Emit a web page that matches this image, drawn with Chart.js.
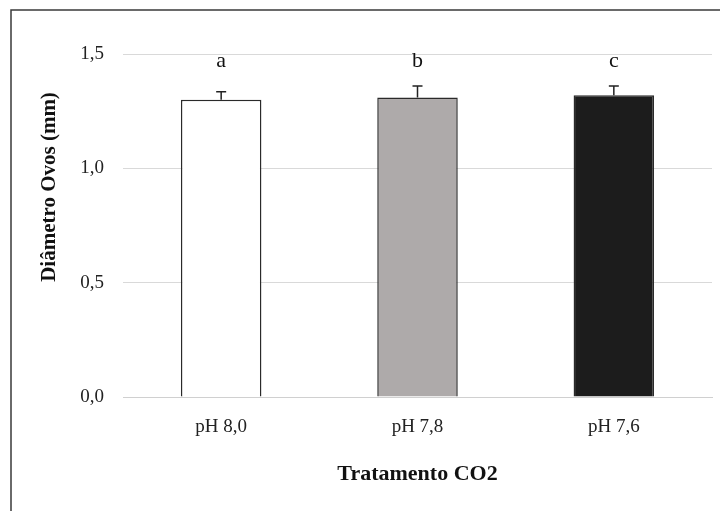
<!DOCTYPE html>
<html>
<head>
<meta charset="utf-8">
<script src="https://cdn.jsdelivr.net/npm/chart.js@4"></script>
<style>
  html, body { margin: 0; padding: 0; background: #ffffff; }
  #wrap { width: 720px; height: 511px; position: relative; }
</style>
</head>
<body>
<div id="wrap"><canvas id="c"></canvas></div>
<script>
// Egg diameter by CO2 treatment
const categories = ['pH 8,0', 'pH 7,8', 'pH 7,6'];
const diameters = [1.30, 1.31, 1.32];
const errors = [0.035, 0.05, 0.04];
const groupLetters = ['a', 'b', 'c'];
const yTicks = [0, 0.5, 1.0, 1.5];
const barFills = ['#ffffff', '#aeaaaa', '#1c1c1c'];

const SERIF = '"Liberation Serif", "Times New Roman", serif';

// Outer frame (left and top edges only)
const framePlugin = {
  id: 'frame',
  beforeDraw(chart) {
    const ctx = chart.ctx;
    ctx.save();
    ctx.strokeStyle = '#3a3a3a';
    ctx.lineWidth = 1.5;
    ctx.beginPath();
    ctx.moveTo(11, 511);
    ctx.lineTo(11, 10);
    ctx.lineTo(720, 10);
    ctx.stroke();
    ctx.restore();
  }
};

// Upper error bars, significance letters and the value-axis caption
const annotatePlugin = {
  id: 'annotate',
  afterDatasetsDraw(chart) {
    const ctx = chart.ctx;
    const y = chart.scales.y;
    const meta = chart.getDatasetMeta(0);
    ctx.save();
    meta.data.forEach((bar, i) => {
      const top = y.getPixelForValue(diameters[i] + errors[i]);
      ctx.strokeStyle = '#222222';
      ctx.lineWidth = 1.5;
      ctx.beginPath();
      ctx.moveTo(bar.x, bar.y);
      ctx.lineTo(bar.x, top);
      ctx.moveTo(bar.x - 5, top);
      ctx.lineTo(bar.x + 5, top);
      ctx.stroke();

      ctx.fillStyle = '#111111';
      ctx.font = '22px ' + SERIF;
      ctx.textAlign = 'center';
      ctx.textBaseline = 'middle';
      ctx.fillText(groupLetters[i], bar.x, chart.chartArea.top + 7);
    });
    ctx.restore();
  },
  afterDraw(chart) {
    const ctx = chart.ctx;
    ctx.save();
    ctx.translate(50, 187);
    ctx.rotate(-Math.PI / 2);
    ctx.fillStyle = '#111111';
    ctx.font = 'bold 21px ' + SERIF;
    ctx.textAlign = 'center';
    ctx.textBaseline = 'middle';
    ctx.fillText('Diâmetro Ovos (mm)', 0, 0);
    ctx.restore();
  }
};

new Chart(document.getElementById('c'), {
  type: 'bar',
  data: {
    labels: categories,
    datasets: [{
      data: diameters,
      backgroundColor: barFills,
      borderColor: '#2a2a2a',
      borderWidth: 1.5,
      borderSkipped: 'bottom',
      barPercentage: 1,
      categoryPercentage: 0.41
    }]
  },
  options: {
    responsive: true,
    maintainAspectRatio: false,
    animation: false,
    layout: { padding: { top: 54, right: 8, left: 0, bottom: 0 } },
    plugins: {
      legend: { display: false },
      tooltip: { enabled: false }
    },
    scales: {
      x: {
        grid: { display: false },
        border: { display: true, color: '#d0d0d0', width: 1 },
        ticks: {
          color: '#222222',
          font: { family: SERIF, size: 19 },
          padding: 11
        },
        title: {
          display: true,
          text: 'Tratamento CO2',
          color: '#111111',
          font: { family: SERIF, size: 22, weight: 'bold' },
          padding: { top: 0, bottom: 23 }
        },
        afterFit(scale) { scale.height = 114; }
      },
      y: {
        min: 0,
        max: 1.5,
        afterBuildTicks(scale) { scale.ticks = yTicks.map(v => ({ value: v })); },
        grid: { color: '#d9d9d9', drawTicks: false, lineWidth: 1 },
        border: { display: false },
        ticks: {
          color: '#222222',
          font: { family: SERIF, size: 19 },
          padding: 19,
          callback: v => Number(v).toFixed(1).replace('.', ',')
        },
        afterFit(scale) { scale.width = 123; }
      }
    }
  },
  plugins: [framePlugin, annotatePlugin]
});
</script>
</body>
</html>
